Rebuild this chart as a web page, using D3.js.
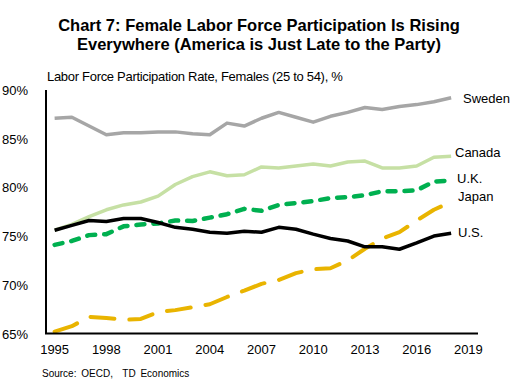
<!DOCTYPE html>
<html>
<head>
<meta charset="utf-8">
<script src="https://cdn.jsdelivr.net/npm/d3@7"></script>
<style>
  body { margin: 0; background: #fff; }
  text { font-family: "Liberation Sans", Arial, sans-serif; }
</style>
</head>
<body>
<div id="chart"></div>
<script>
// Years on the category axis (labels every 3rd year)
const years = d3.range(1995, 2020);
const dataYears = d3.range(1995, 2019);
const tickYears = [1995, 1998, 2001, 2004, 2007, 2010, 2013, 2016, 2019];
const yTicks = [65, 70, 75, 80, 85, 90];

// Female labour force participation, 25-54, %
const sweden = [87.1, 87.2, 86.3, 85.4, 85.6, 85.6, 85.7, 85.7, 85.5, 85.4, 86.6, 86.3,
                87.1, 87.7, 87.2, 86.7, 87.3, 87.7, 88.2, 88.0, 88.3, 88.5, 88.8, 89.2];
const canada = [75.6, 76.2, 77.0, 77.7, 78.2, 78.5, 79.1, 80.3, 81.1, 81.6, 81.2, 81.3,
                82.1, 82.0, 82.2, 82.4, 82.2, 82.6, 82.7, 82.0, 82.0, 82.2, 83.1, 83.2];
const uk     = [74.1, 74.5, 75.1, 75.2, 76.0, 76.2, 76.3, 76.6, 76.55, 76.9, 77.25, 77.8,
                77.6, 78.2, 78.4, 78.6, 78.9, 79.0, 79.2, 79.6, 79.6, 79.7, 80.6, 80.7];
const japan  = [65.2, 65.75, 66.7, 66.6, 66.4, 66.5, 67.2, 67.4, 67.7, 68.0, 68.75, 69.4,
                70.1, 70.5, 71.2, 71.6, 71.7, 72.5, 73.7, 74.75, 75.4, 76.6, 77.7, 78.5];
const us     = [75.6, 76.1, 76.6, 76.5, 76.8, 76.8, 76.4, 75.9, 75.7, 75.4, 75.3, 75.5,
                75.4, 75.9, 75.7, 75.2, 74.75, 74.5, 73.9, 73.9, 73.65, 74.3, 75.0, 75.3];

const series = [
  { name: 'Sweden', values: sweden, color: '#a6a6a6', width: 3.5, dash: null,    label: [463, 103] },
  { name: 'Canada', values: canada, color: '#c6e0a4', width: 3.5, dash: null,    label: [455, 157] },
  { name: 'U.K.',   values: uk,     color: '#00b050', width: 4.5, dash: '8,9',   label: [457, 183] },
  { name: 'Japan',  values: japan,  color: '#e9b400', width: 4,   dash: '24,15', label: [458, 201] },
  { name: 'U.S.',   values: us,     color: '#000000', width: 3.5, dash: null,    label: [458, 237] }
];

const W = 518, H = 385;
const svg = d3.select('#chart').append('svg')
  .attr('width', W)
  .attr('height', H);

// Title
svg.append('text')
  .attr('x', 259).attr('y', 31)
  .attr('text-anchor', 'middle')
  .attr('font-size', '16.5px')
  .attr('font-weight', 'bold')
  .text('Chart 7: Female Labor Force Participation Is Rising');
svg.append('text')
  .attr('x', 259).attr('y', 50)
  .attr('text-anchor', 'middle')
  .attr('font-size', '16.5px')
  .attr('font-weight', 'bold')
  .text('Everywhere (America is Just Late to the Party)');

// Subtitle
svg.append('text')
  .attr('x', 47).attr('y', 81)
  .attr('font-size', '13px')
  .attr('letter-spacing', '-0.3px')
  .text('Labor Force Participation Rate, Females (25 to 54), %');

// Scales
const x = d3.scaleBand()
  .domain(years)
  .range([46, 477]);
const xc = yr => x(yr) + x.bandwidth() / 2;

const y = d3.scaleLinear()
  .domain([65, 90])
  .range([333.5, 90]);

// Y labels
svg.append('g')
  .selectAll('text')
  .data(yTicks)
  .join('text')
  .attr('x', 28)
  .attr('y', d => y(d) + 5)
  .attr('text-anchor', 'end')
  .attr('font-size', '13px')
  .text(d => d + '%');

// X labels
svg.append('g')
  .selectAll('text')
  .data(tickYears)
  .join('text')
  .attr('x', d => xc(d))
  .attr('y', 354)
  .attr('text-anchor', 'middle')
  .attr('font-size', '13px')
  .text(d => d);

// Lines
const line = d3.line()
  .x((d, i) => xc(dataYears[i]))
  .y(d => y(d));

svg.append('g')
  .selectAll('path')
  .data(series)
  .join('path')
  .attr('fill', 'none')
  .attr('stroke', d => d.color)
  .attr('stroke-width', d => d.width)
  .attr('stroke-linejoin', 'round')
  .attr('stroke-linecap', d => d.dash ? 'round' : 'butt')
  .attr('stroke-dasharray', d => d.dash)
  .attr('d', d => line(d.values));

// Axis lines
svg.append('line')
  .attr('x1', 46).attr('x2', 46)
  .attr('y1', y(90)).attr('y2', y(65))
  .attr('stroke', '#000').attr('stroke-width', 2);
svg.append('line')
  .attr('x1', 45).attr('x2', 478)
  .attr('y1', y(65)).attr('y2', y(65))
  .attr('stroke', '#000').attr('stroke-width', 2);

// Series labels
svg.append('g')
  .selectAll('text')
  .data(series)
  .join('text')
  .attr('x', d => d.label[0])
  .attr('y', d => d.label[1])
  .attr('font-size', '13px')
  .text(d => d.name);

// Source
svg.append('text')
  .attr('x', 42).attr('y', 377)
  .attr('font-size', '10px')
  .attr('word-spacing', '2px')
  .text('Source: OECD,  TD Economics')
  .attr('xml:space', 'preserve');
</script>
</body>
</html>
